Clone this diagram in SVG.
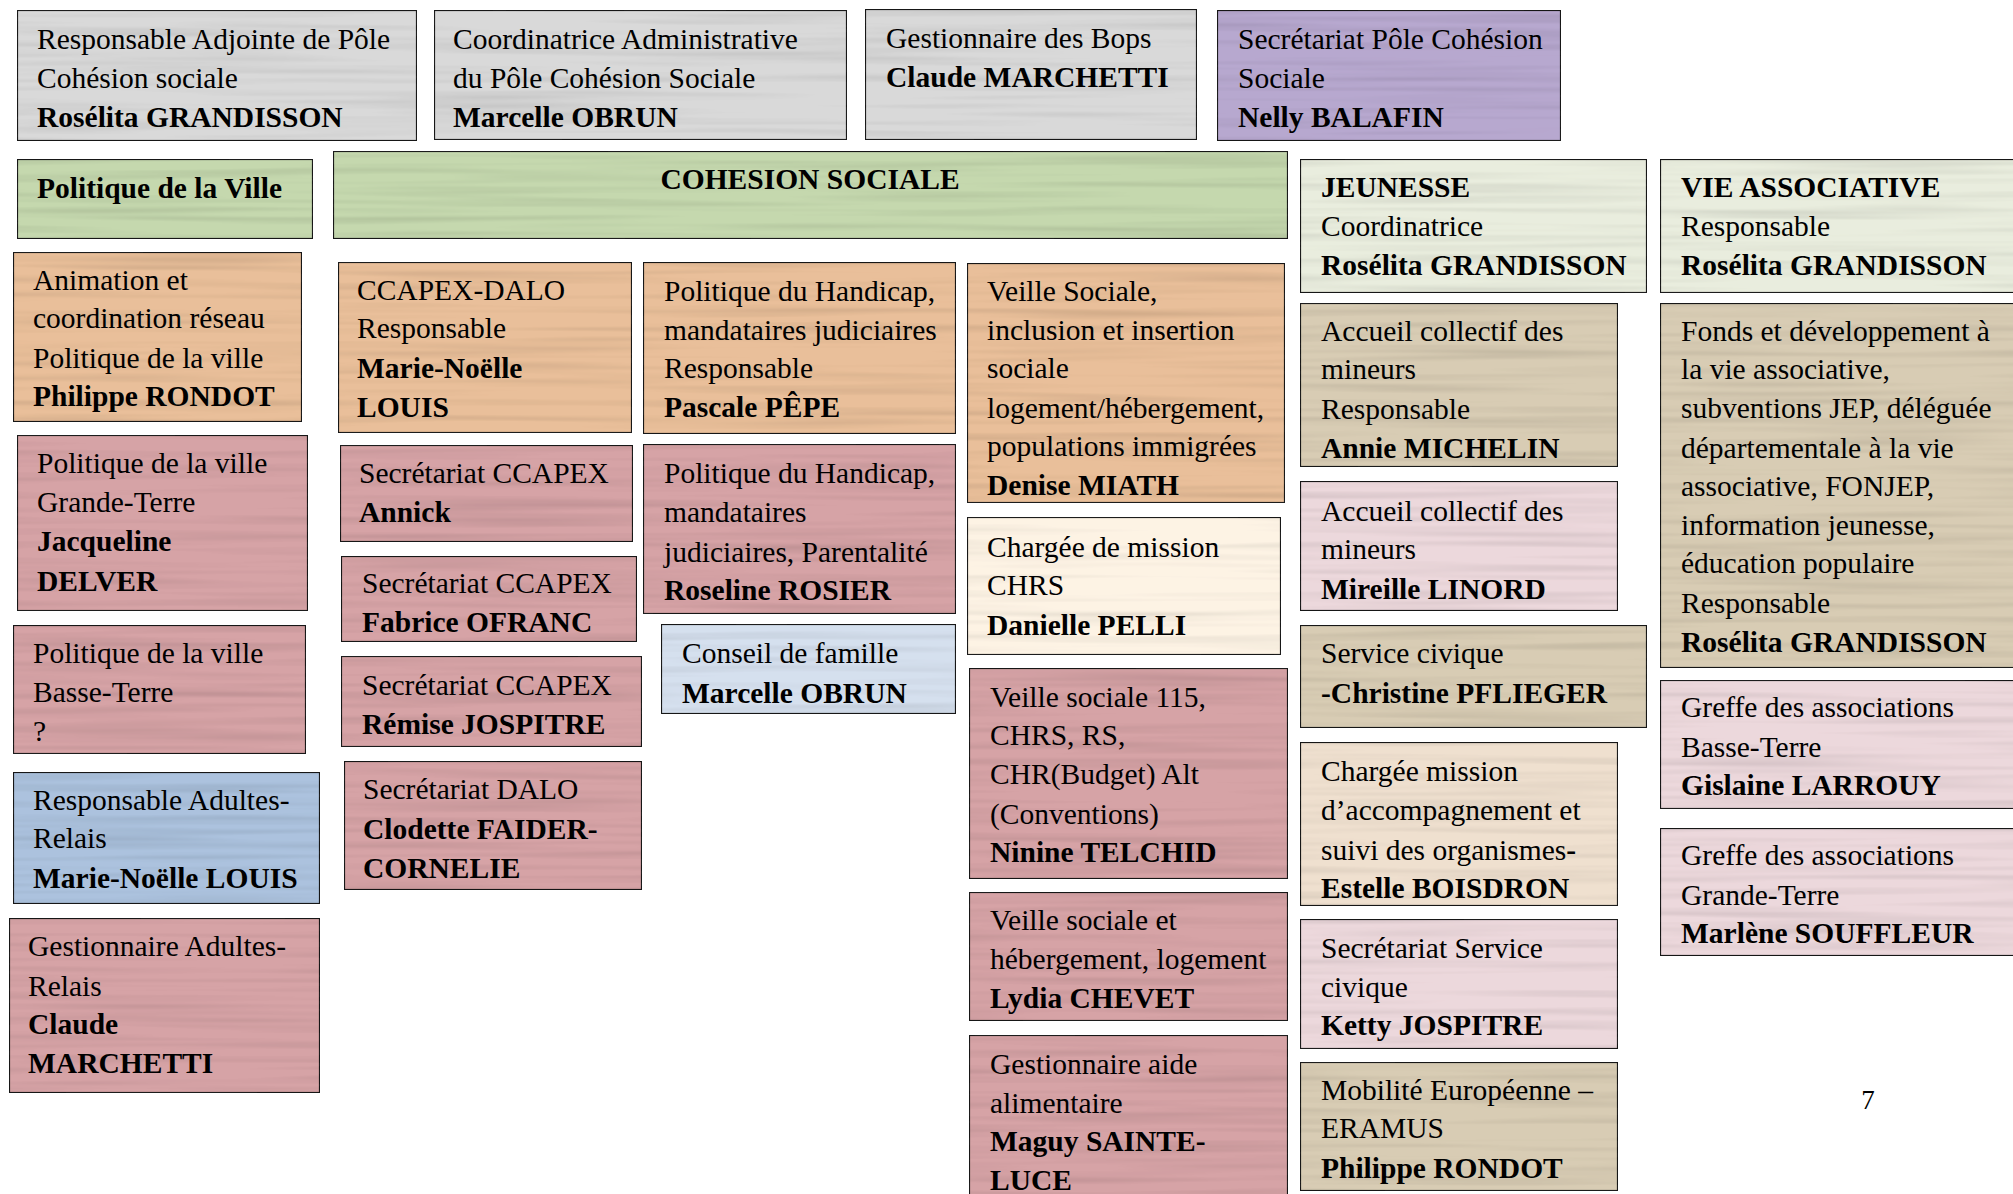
<svg xmlns="http://www.w3.org/2000/svg" width="2013" height="1194" viewBox="0 0 2013 1194">
<style>
.bx{stroke:#1e1e1e;stroke-width:2.2;filter:url(#grain)}
.gray{fill:#d9d9d9}
.purple{fill:#b7a8cf}
.green{fill:#c5d8ae}
.hdr{fill:#e9edde}
.orange{fill:#e9bf9a}
.rose{fill:#d6a3a6}
.blue{fill:#acc2de}
.lblue{fill:#d5e0ee}
.cream{fill:#fdf3e4}
.beige{fill:#d8ccb4}
.lpink{fill:#ecd8dc}
.peach{fill:#efe0cf}
text{font-family:"Liberation Serif","Times New Roman",serif;font-size:29.5px;fill:#000;transform:translateY(2.5px)}
.b{font-weight:bold}
</style>
<defs>
<filter id="grain" x="0" y="0" width="100%" height="100%">
<feTurbulence type="fractalNoise" baseFrequency="0.003 0.12" numOctaves="2" seed="4" result="n"/>
<feColorMatrix in="n" type="matrix" values="0 0 0 0 0  0 0 0 0 0  0 0 0 0 0  0 0 0 0.45 -0.2" result="a"/>
<feComposite in="a" in2="SourceGraphic" operator="in" result="d"/>
<feMerge><feMergeNode in="SourceGraphic"/><feMergeNode in="d"/></feMerge>
</filter>
</defs>
<rect width="2013" height="1194" fill="#ffffff"/>
<g id="connectors"/>

<g id="n1"><rect class="bx gray" x="17" y="10" width="400" height="131"/>
<text x="37" y="46">Responsable Adjointe de Pôle</text><text x="37" y="85">Cohésion sociale</text><text class="b" x="37" y="124">Rosélita GRANDISSON</text></g>

<g id="n2"><rect class="bx gray" x="434" y="10" width="413" height="130"/>
<text x="453" y="46">Coordinatrice Administrative</text><text x="453" y="85">du Pôle Cohésion Sociale</text><text class="b" x="453" y="124">Marcelle OBRUN</text></g>

<g id="n3"><rect class="bx gray" x="865" y="9" width="332" height="131"/>
<text x="886" y="45">Gestionnaire des Bops</text><text class="b" x="886" y="84">Claude MARCHETTI</text></g>

<g id="n4"><rect class="bx purple" x="1217" y="10" width="344" height="131"/>
<text x="1238" y="46">Secrétariat Pôle Cohésion</text><text x="1238" y="85">Sociale</text><text class="b" x="1238" y="124">Nelly BALAFIN</text></g>

<g id="n5"><rect class="bx green" x="17" y="159" width="296" height="80"/>
<text class="b" x="37" y="195">Politique de la Ville</text></g>

<g id="n6"><rect class="bx green" x="333" y="151" width="955" height="88"/>
<text class="b" x="810" y="186" text-anchor="middle">COHESION SOCIALE</text></g>

<g id="n7"><rect class="bx hdr" x="1300" y="159" width="347" height="134"/>
<text class="b" x="1321" y="194">JEUNESSE</text><text x="1321" y="233">Coordinatrice</text><text class="b" x="1321" y="272">Rosélita GRANDISSON</text></g>

<g id="n8"><rect class="bx hdr" x="1660" y="159" width="365" height="134"/>
<text class="b" x="1681" y="194">VIE ASSOCIATIVE</text><text x="1681" y="233">Responsable</text><text class="b" x="1681" y="272">Rosélita GRANDISSON</text></g>

<g id="n9"><rect class="bx orange" x="13" y="252" width="289" height="170"/>
<text x="33" y="287">Animation et</text><text x="33" y="325">coordination réseau</text><text x="33" y="365">Politique de la ville</text><text class="b" x="33" y="403">Philippe RONDOT</text></g>

<g id="n10"><rect class="bx rose" x="17" y="435" width="291" height="176"/>
<text x="37" y="470">Politique de la ville</text><text x="37" y="509">Grande-Terre</text><text class="b" x="37" y="548">Jacqueline</text><text class="b" x="37" y="588">DELVER</text></g>

<g id="n11"><rect class="bx rose" x="13" y="625" width="293" height="129"/>
<text x="33" y="660">Politique de la ville</text><text x="33" y="699">Basse-Terre</text><text x="33" y="738">?</text></g>

<g id="n12"><rect class="bx blue" x="13" y="772" width="307" height="132"/>
<text x="33" y="807">Responsable Adultes-</text><text x="33" y="845">Relais</text><text class="b" x="33" y="885">Marie-Noëlle LOUIS</text></g>

<g id="n13"><rect class="bx rose" x="9" y="918" width="311" height="175"/>
<text x="28" y="953">Gestionnaire Adultes-</text><text x="28" y="993">Relais</text><text class="b" x="28" y="1031">Claude</text><text class="b" x="28" y="1070">MARCHETTI</text></g>

<g id="n14"><rect class="bx orange" x="338" y="262" width="294" height="171"/>
<text x="357" y="297">CCAPEX-DALO</text><text x="357" y="335">Responsable</text><text class="b" x="357" y="375">Marie-Noëlle</text><text class="b" x="357" y="414">LOUIS</text></g>

<g id="n15"><rect class="bx rose" x="340" y="445" width="293" height="97"/>
<text x="359" y="480">Secrétariat CCAPEX</text><text class="b" x="359" y="519">Annick</text></g>

<g id="n16"><rect class="bx rose" x="341" y="556" width="296" height="86"/>
<text x="362" y="590">Secrétariat CCAPEX</text><text class="b" x="362" y="629">Fabrice OFRANC</text></g>

<g id="n17"><rect class="bx rose" x="341" y="656" width="301" height="91"/>
<text x="362" y="692">Secrétariat CCAPEX</text><text class="b" x="362" y="731">Rémise JOSPITRE</text></g>

<g id="n18"><rect class="bx rose" x="344" y="761" width="298" height="129"/>
<text x="363" y="796">Secrétariat DALO</text><text class="b" x="363" y="836">Clodette FAIDER-</text><text class="b" x="363" y="875">CORNELIE</text></g>

<g id="n19"><rect class="bx orange" x="643" y="262" width="313" height="172"/>
<text x="664" y="298">Politique du Handicap,</text><text x="664" y="337">mandataires judiciaires</text><text x="664" y="375">Responsable</text><text class="b" x="664" y="414">Pascale PÊPE</text></g>

<g id="n20"><rect class="bx rose" x="643" y="444" width="313" height="170"/>
<text x="664" y="480">Politique du Handicap,</text><text x="664" y="519">mandataires</text><text x="664" y="559">judiciaires, Parentalité</text><text class="b" x="664" y="597">Roseline ROSIER</text></g>

<g id="n21"><rect class="bx lblue" x="661" y="624" width="295" height="90"/>
<text x="682" y="660">Conseil de famille</text><text class="b" x="682" y="700">Marcelle OBRUN</text></g>

<g id="n22"><rect class="bx orange" x="967" y="263" width="318" height="240"/>
<text x="987" y="298">Veille Sociale,</text><text x="987" y="337">inclusion et insertion</text><text x="987" y="375">sociale</text><text x="987" y="415">logement/hébergement,</text><text x="987" y="453">populations immigrées</text><text class="b" x="987" y="492">Denise MIATH</text></g>

<g id="n23"><rect class="bx cream" x="967" y="517" width="314" height="138"/>
<text x="987" y="554">Chargée de mission</text><text x="987" y="592">CHRS</text><text class="b" x="987" y="632">Danielle PELLI</text></g>

<g id="n24"><rect class="bx rose" x="969" y="668" width="319" height="211"/>
<text x="990" y="704">Veille sociale 115,</text><text x="990" y="742">CHRS, RS,</text><text x="990" y="781">CHR(Budget) Alt</text><text x="990" y="821">(Conventions)</text><text class="b" x="990" y="859">Ninine TELCHID</text></g>

<g id="n25"><rect class="bx rose" x="969" y="892" width="319" height="129"/>
<text x="990" y="927">Veille sociale et</text><text x="990" y="966">hébergement, logement</text><text class="b" x="990" y="1005">Lydia CHEVET</text></g>

<g id="n26"><rect class="bx rose" x="969" y="1035" width="319" height="175"/>
<text x="990" y="1071">Gestionnaire aide</text><text x="990" y="1110">alimentaire</text><text class="b" x="990" y="1148">Maguy SAINTE-</text><text class="b" x="990" y="1187">LUCE</text></g>

<g id="n27"><rect class="bx beige" x="1300" y="303" width="318" height="164"/>
<text x="1321" y="338">Accueil collectif des</text><text x="1321" y="376">mineurs</text><text x="1321" y="416">Responsable</text><text class="b" x="1321" y="455">Annie MICHELIN</text></g>

<g id="n28"><rect class="bx lpink" x="1300" y="481" width="318" height="130"/>
<text x="1321" y="518">Accueil collectif des</text><text x="1321" y="556">mineurs</text><text class="b" x="1321" y="596">Mireille LINORD</text></g>

<g id="n29"><rect class="bx beige" x="1300" y="625" width="347" height="103"/>
<text x="1321" y="660">Service civique</text><text class="b" x="1321" y="700">-Christine PFLIEGER</text></g>

<g id="n30"><rect class="bx peach" x="1300" y="742" width="318" height="164"/>
<text x="1321" y="778">Chargée mission</text><text x="1321" y="817">d’accompagnement et</text><text x="1321" y="857">suivi des organismes<tspan class="b">-</tspan></text><text class="b" x="1321" y="895">Estelle BOISDRON</text></g>

<g id="n31"><rect class="bx lpink" x="1300" y="919" width="318" height="130"/>
<text x="1321" y="955">Secrétariat Service</text><text x="1321" y="994">civique</text><text class="b" x="1321" y="1032">Ketty JOSPITRE</text></g>

<g id="n32"><rect class="bx beige" x="1300" y="1062" width="318" height="129"/>
<text x="1321" y="1097">Mobilité Européenne –</text><text x="1321" y="1135">ERAMUS</text><text class="b" x="1321" y="1175">Philippe RONDOT</text></g>

<g id="n33"><rect class="bx beige" x="1660" y="303" width="365" height="365"/>
<text x="1681" y="338">Fonds et développement à</text><text x="1681" y="376">la vie associative,</text><text x="1681" y="415">subventions JEP, déléguée</text><text x="1681" y="455">départementale à la vie</text><text x="1681" y="493">associative, FONJEP,</text><text x="1681" y="532">information jeunesse,</text><text x="1681" y="570">éducation populaire</text><text x="1681" y="610">Responsable</text><text class="b" x="1681" y="649">Rosélita GRANDISSON</text></g>

<g id="n34"><rect class="bx lpink" x="1660" y="680" width="365" height="129"/>
<text x="1681" y="714">Greffe des associations</text><text x="1681" y="754">Basse-Terre</text><text class="b" x="1681" y="792">Gislaine LARROUY</text></g>

<g id="n35"><rect class="bx lpink" x="1660" y="828" width="365" height="128"/>
<text x="1681" y="862">Greffe des associations</text><text x="1681" y="902">Grande-Terre</text><text class="b" x="1681" y="940">Marlène SOUFFLEUR</text></g>

<text x="1868" y="1106" text-anchor="middle" style="font-size:27px">7</text>
</svg>
